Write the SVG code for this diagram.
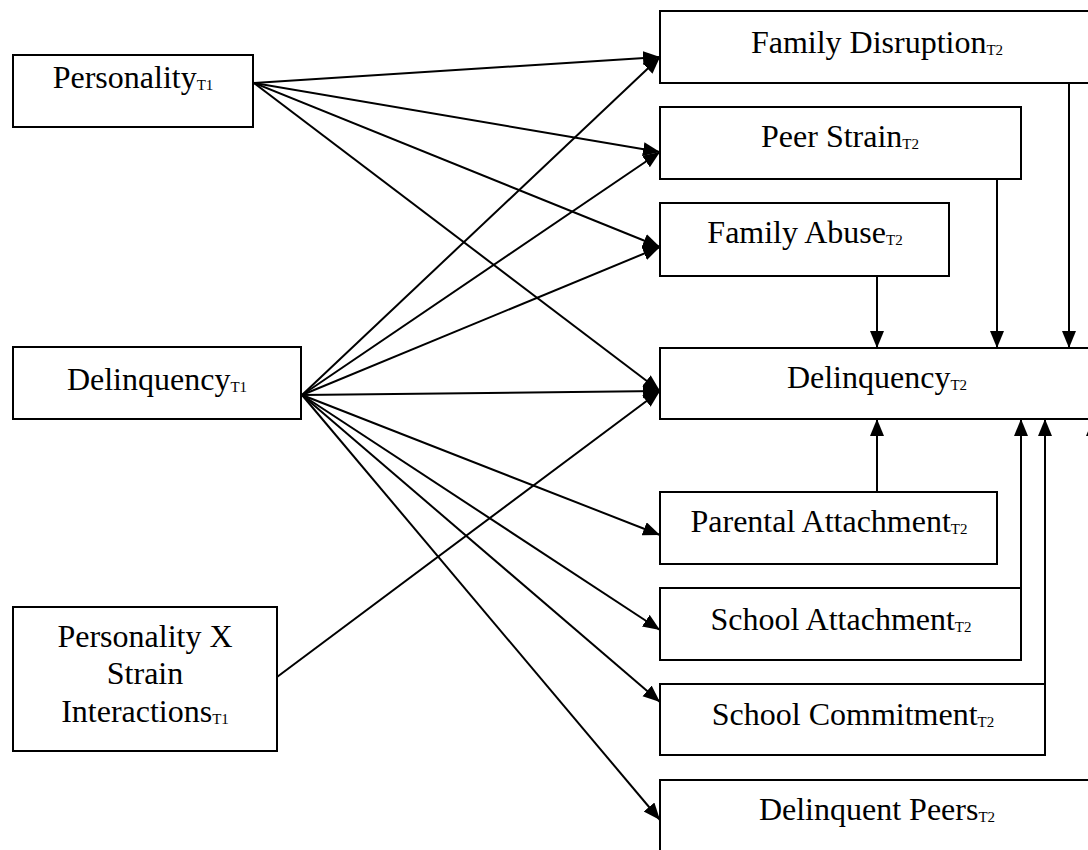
<svg xmlns="http://www.w3.org/2000/svg" width="1088" height="850" viewBox="0 0 1088 850">
<style>
.box{fill:#fff;stroke:#000;stroke-width:2}
.lbl{font-family:"Liberation Serif","Times New Roman",serif;font-size:32px;fill:#000;text-anchor:middle}
.sub{font-size:15px}
.edge{fill:none;stroke:#000;stroke-width:2;marker-end:url(#ah)}
.plain{fill:none;stroke:#000;stroke-width:2}
</style>
<defs>
<marker id="ah" markerUnits="userSpaceOnUse" markerWidth="18" markerHeight="16" refX="17" refY="7" orient="auto">
<path d="M0,0 L17,7 L0,14 z" fill="#000"/>
</marker>
</defs>
<rect width="1088" height="850" fill="#fff"/>
<g id="connectors">
<line class="edge" x1="254" y1="83" x2="660" y2="57"/>
<line class="edge" x1="254" y1="83" x2="660" y2="152"/>
<line class="edge" x1="254" y1="83" x2="660" y2="247"/>
<line class="edge" x1="254" y1="83" x2="660" y2="391"/>
<line class="edge" x1="302" y1="395" x2="660" y2="57"/>
<line class="edge" x1="302" y1="395" x2="660" y2="152"/>
<line class="edge" x1="302" y1="395" x2="660" y2="247"/>
<line class="edge" x1="302" y1="395" x2="660" y2="391"/>
<line class="edge" x1="302" y1="395" x2="660" y2="535"/>
<line class="edge" x1="302" y1="395" x2="660" y2="630"/>
<line class="edge" x1="302" y1="395" x2="660" y2="702"/>
<line class="edge" x1="302" y1="395" x2="660" y2="820"/>
<line class="edge" x1="277" y1="677" x2="660" y2="391"/>
<line class="edge" x1="877" y1="276" x2="877" y2="348"/>
<line class="edge" x1="997" y1="179" x2="997" y2="348"/>
<line class="edge" x1="1069" y1="83" x2="1069" y2="348"/>
<line class="edge" x1="877" y1="492" x2="877" y2="419"/>
<line class="edge" x1="1021" y1="588" x2="1021" y2="419"/>
<line class="edge" x1="1045" y1="684" x2="1045" y2="419"/>
<line class="edge" x1="1093" y1="780" x2="1093" y2="419"/>
</g>
<g id="personality_t1">
<rect class="box" x="13" y="55" width="240" height="72"/>
<text class="lbl" x="133" y="88">Personality<tspan class="sub" dy="2">T1</tspan></text>
</g>
<g id="delinquency_t1">
<rect class="box" x="13" y="347" width="288" height="72"/>
<text class="lbl" x="157" y="390">Delinquency<tspan class="sub" dy="2">T1</tspan></text>
</g>
<g id="interactions_t1">
<rect class="box" x="13" y="607" width="264" height="144"/>
<text class="lbl" x="145" y="647">Personality X</text>
<text class="lbl" x="145" y="684">Strain</text>
<text class="lbl" x="145" y="722">Interactions<tspan class="sub" dy="2">T1</tspan></text>
</g>
<g id="family_disruption_t2">
<rect class="box" x="660" y="11" width="434" height="72"/>
<text class="lbl" x="877" y="53">Family Disruption<tspan class="sub" dy="2">T2</tspan></text>
</g>
<g id="peer_strain_t2">
<rect class="box" x="660" y="107" width="361" height="72"/>
<text class="lbl" x="840" y="147">Peer Strain<tspan class="sub" dy="2">T2</tspan></text>
</g>
<g id="family_abuse_t2">
<rect class="box" x="660" y="203" width="289" height="73"/>
<text class="lbl" x="805" y="243">Family Abuse<tspan class="sub" dy="2">T2</tspan></text>
</g>
<g id="delinquency_t2">
<rect class="box" x="660" y="348" width="434" height="71"/>
<text class="lbl" x="877" y="388">Delinquency<tspan class="sub" dy="2">T2</tspan></text>
</g>
<g id="parental_attachment_t2">
<rect class="box" x="660" y="492" width="337" height="72"/>
<text class="lbl" x="829" y="532">Parental Attachment<tspan class="sub" dy="2">T2</tspan></text>
</g>
<g id="school_attachment_t2">
<rect class="box" x="660" y="588" width="361" height="72"/>
<text class="lbl" x="841" y="630">School Attachment<tspan class="sub" dy="2">T2</tspan></text>
</g>
<g id="school_commitment_t2">
<rect class="box" x="660" y="684" width="385" height="71"/>
<text class="lbl" x="853" y="725">School Commitment<tspan class="sub" dy="2">T2</tspan></text>
</g>
<g id="delinquent_peers_t2">
<rect class="box" x="660" y="780" width="434" height="90"/>
<text class="lbl" x="877" y="820">Delinquent Peers<tspan class="sub" dy="2">T2</tspan></text>
</g>
</svg>
